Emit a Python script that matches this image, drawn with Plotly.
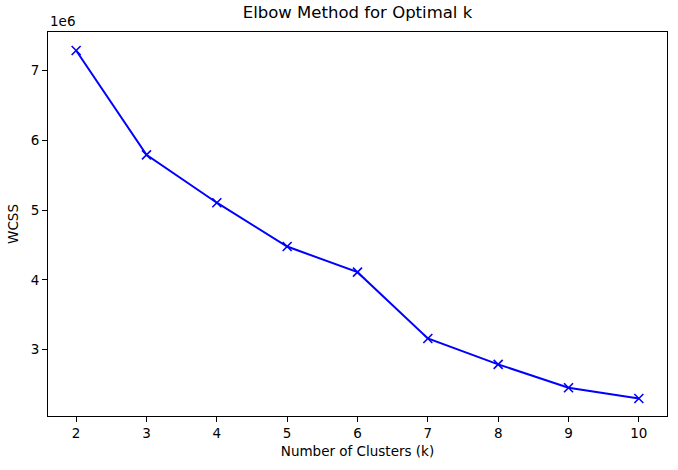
import plotly.graph_objects as go

k_values = [2, 3, 4, 5, 6, 7, 8, 9, 10]
wcss = [7.285e6, 5.79e6, 5.105e6, 4.477e6, 4.11e6, 3.16e6, 2.79e6, 2.455e6, 2.30e6]
y_tickvals = [3e6, 4e6, 5e6, 6e6, 7e6]
y_ticktext = ["3", "4", "5", "6", "7"]

FONT = "DejaVu Sans"

fig = go.Figure()
fig.add_trace(go.Scatter(
    x=k_values, y=wcss, mode="lines+markers",
    line=dict(color="#0000FF", width=2),
    marker=dict(symbol="x-thin", size=9, color="#0000FF",
                line=dict(color="#0000FF", width=1.6)),
    showlegend=False,
))

axis_common = dict(
    showgrid=False, zeroline=False, showline=True, linecolor="black", linewidth=1,
    mirror=True, ticks="outside", ticklen=5, tickwidth=1, tickcolor="black",
    tickfont=dict(family=FONT, size=13.5, color="black"),
)

fig.update_layout(
    width=678, height=470,
    margin=dict(l=48, r=11, t=32, b=54),
    paper_bgcolor="white", plot_bgcolor="white",
    title=dict(text="Elbow Method for Optimal k", x=0.5 + (48 - 11) / 2 / 678 * 0, xref="paper",
               y=1 - 12 / 470, yanchor="middle",
               font=dict(family=FONT, size=16.5, color="black")),
    xaxis=dict(range=[1.6, 10.4], tickvals=k_values, **axis_common,
               title=dict(text="Number of Clusters (k)", standoff=6,
                          font=dict(family=FONT, size=13.5, color="black"))),
    yaxis=dict(range=[2.05e6, 7.55e6], tickvals=y_tickvals, ticktext=y_ticktext, **axis_common,
               title=dict(text="WCSS", standoff=8,
                          font=dict(family=FONT, size=13.5, color="black"))),
    annotations=[dict(text="1e6", xref="paper", yref="paper", x=0, y=1,
                      xanchor="left", yanchor="bottom", yshift=1, showarrow=False,
                      font=dict(family=FONT, size=13.5, color="black"))],
)

fig.write_html("out.html")
